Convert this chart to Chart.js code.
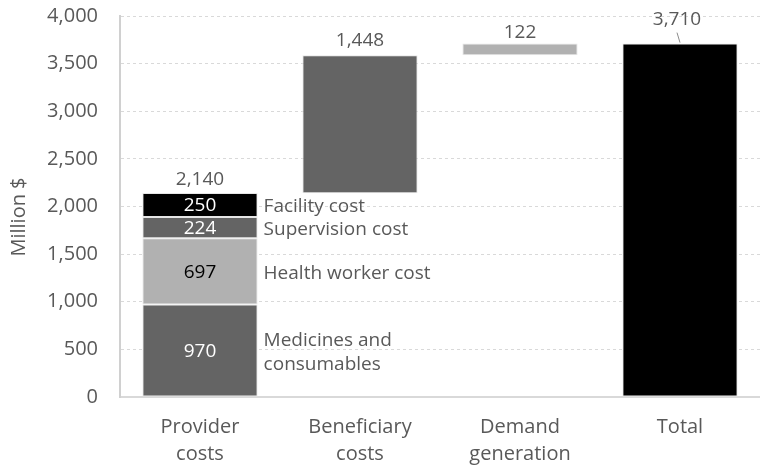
<!DOCTYPE html>
<html>
<head>
<meta charset="utf-8">
<script src="https://cdn.jsdelivr.net/npm/chart.js@4.4.1/dist/chart.umd.min.js"></script>
<style>
  html, body { margin: 0; padding: 0; background: #fff; overflow: hidden; }
  #wrap { width: 760px; height: 470px; }
</style>
</head>
<body>
<div id="wrap"><canvas id="costChart" width="760" height="470"></canvas></div>
<script>
const categories = [['Provider', 'costs'], ['Beneficiary', 'costs'], ['Demand', 'generation'], 'Total'];

// provider cost breakdown (stacked inside first bar)
const providerNames = [['Medicines and', 'consumables'], ['Health worker cost'], ['Supervision cost'], ['Facility cost']];
const providerValues = [970, 697, 224, 250];
const providerColors = ['#646464', '#b1b1b1', '#646464', '#000000'];
const providerTextColors = ['#ffffff', '#000000', '#ffffff', '#ffffff'];
const providerTotal = 2140;

const beneficiaryValue = 1448;
const demandValue = 122;
const totalValue = 3710;

const yTicks = { min: 0, max: 4000, step: 500 };
const yTitle = 'Million $';

const FONT = '"Open Sans", "Noto Sans", sans-serif';
const TEXT = '#595959';

function at(index, value) {
  const arr = [null, null, null, null];
  arr[index] = value;
  return arr;
}

const datasets = [];
let run = 0;
providerValues.forEach((v, i) => {
  datasets.push({
    data: at(0, [run, run + v]),
    backgroundColor: providerColors[i],
    inside: v.toLocaleString('en-US'),
    insideColor: providerTextColors[i],
    side: providerNames[i],
    top: i === providerValues.length - 1 ? providerTotal.toLocaleString('en-US') : null,
    topGap: 13
  });
  run += v;
});
datasets.push({
  data: at(1, [providerTotal, providerTotal + beneficiaryValue]),
  backgroundColor: '#646464',
  top: beneficiaryValue.toLocaleString('en-US'),
  topGap: 15
});
datasets.push({
  data: at(2, [providerTotal + beneficiaryValue, providerTotal + beneficiaryValue + demandValue]),
  backgroundColor: '#b1b1b1',
  top: demandValue.toLocaleString('en-US'),
  topGap: 11
});
datasets.push({
  data: at(3, [0, totalValue]),
  backgroundColor: '#000000',
  top: totalValue.toLocaleString('en-US'),
  topGap: 24,
  leader: true
});

const labelPlugin = {
  id: 'barLabels',
  afterDatasetsDraw(chart) {
    const ctx = chart.ctx;
    ctx.save();
    ctx.textBaseline = 'middle';
    chart.data.datasets.forEach((ds, di) => {
      chart.getDatasetMeta(di).data.forEach((bar, i) => {
        if (ds.data[i] == null) return;
        const mid = (bar.y + bar.base) / 2;
        ctx.font = '19px ' + FONT;
        if (ds.inside) {
          ctx.textAlign = 'center';
          ctx.fillStyle = ds.insideColor;
          ctx.fillText(ds.inside, bar.x, mid + 1);
        }
        if (ds.side) {
          ctx.textAlign = 'left';
          ctx.fillStyle = TEXT;
          const n = ds.side.length;
          ds.side.forEach((line, k) => {
            ctx.fillText(line, bar.x + bar.width / 2 + 6, mid + 2 + (k - (n - 1) / 2) * 24);
          });
        }
        if (ds.top) {
          ctx.textAlign = 'center';
          ctx.fillStyle = TEXT;
          if (ds.leader) {
            ctx.fillText(ds.top, bar.x - 3, bar.y - ds.topGap);
            ctx.strokeStyle = '#8c8c8c';
            ctx.lineWidth = 1;
            ctx.beginPath();
            ctx.moveTo(bar.x - 3, bar.y - 11);
            ctx.lineTo(bar.x, bar.y - 1);
            ctx.stroke();
          } else {
            ctx.fillText(ds.top, bar.x, bar.y - ds.topGap);
          }
        }
      });
    });
    // y axis title
    ctx.translate(19, 217);
    ctx.rotate(-Math.PI / 2);
    ctx.textAlign = 'center';
    ctx.fillStyle = TEXT;
    ctx.font = '20px ' + FONT;
    ctx.fillText(yTitle, 0, 0);
    ctx.restore();
  }
};

new Chart(document.getElementById('costChart').getContext('2d'), {
  type: 'bar',
  data: { labels: categories, datasets: datasets },
  plugins: [labelPlugin],
  options: {
    responsive: false,
    animation: false,
    layout: { padding: 0 },
    datasets: {
      bar: {
        grouped: false,
        barPercentage: 0.72,
        categoryPercentage: 1,
        borderColor: '#e6e6e6',
        borderWidth: 1,
        borderSkipped: false
      }
    },
    plugins: {
      legend: { display: false },
      tooltip: { enabled: false },
      title: { display: false }
    },
    scales: {
      x: {
        afterFit(scale) { scale.height = 73; },
        grid: { display: false, drawTicks: false },
        border: { color: '#d9d9d9', width: 2 },
        ticks: { color: TEXT, font: { family: FONT, size: 20, lineHeight: 1.35 }, padding: 17, maxRotation: 0 }
      },
      y: {
        min: yTicks.min,
        max: yTicks.max,
        afterFit(scale) { scale.width = 120; scale.paddingTop = 16; scale.paddingBottom = 0; },
        grid: { color: '#d9d9d9', drawTicks: false },
        border: { color: '#d0d0d0', width: 2, dash: [3, 3] },
        ticks: { stepSize: yTicks.step, color: TEXT, font: { family: FONT, size: 20 }, padding: 22 },
        title: { display: false }
      }
    }
  }
});
</script>
</body>
</html>
